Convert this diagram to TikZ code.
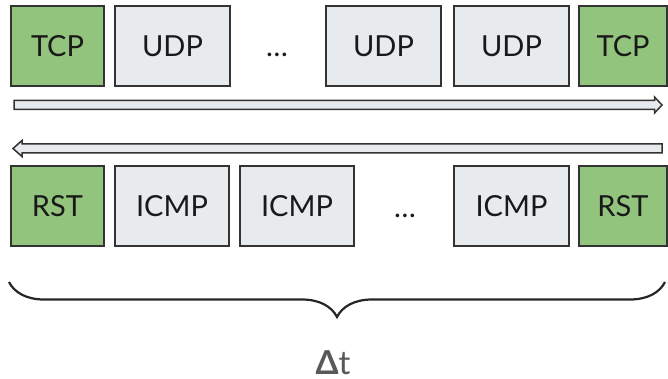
\documentclass[tikz,border=0pt]{standalone}
\usepackage{fontspec}
\setmainfont{Lato}
\usepackage{tikz}
\usetikzlibrary{decorations.pathreplacing}
\usepackage{xcolor}

\definecolor{pktgreen}{HTML}{93C47D}
\definecolor{pktgrey}{HTML}{E8EBED}
\definecolor{pktline}{HTML}{333333}
\definecolor{labelgrey}{HTML}{595959}

\tikzset{
  pkt/.style={draw=pktline, line width=1.5pt, minimum height=80pt,
    inner sep=0pt, text=black!90, font=\fontsize{29}{30}\selectfont},
  tcp/.style={pkt, fill=pktgreen, minimum width=93pt},
  udp/.style={pkt, fill=pktgrey, minimum width=115pt},
  dots/.style={anchor=base, inner sep=0pt, text=black!90,
    font=\fontsize{29}{30}\selectfont},
  flow/.style={draw=pktline, fill=pktgrey, line width=1.5pt, line join=miter}
}

\begin{document}
\begin{tikzpicture}[x=1pt,y=-1pt]
  \useasboundingbox (0,0) rectangle (668,379);
  % packets sent
  \node[tcp] (tcpa) at (57.5,46) {TCP};
  \node[udp] (udpa) at (172.5,46) {UDP};
  \node[dots] (dotsa) at (277,57) {…};
  \node[udp] (udpb) at (383.5,46) {UDP};
  \node[udp] (udpc) at (511.5,46) {UDP};
  \node[tcp, minimum width=88pt] (tcpb) at (623,46) {TCP};
  % arrows
  \path[flow] (14,100.5) -- (654.5,100.5) -- (654.5,97) -- (662,105) -- (654.5,113)
    -- (654.5,109.5) -- (14,109.5) -- cycle;
  \path[flow] (662,144) -- (22,144) -- (22,140.5) -- (13,148.5) -- (22,156.5)
    -- (22,153) -- (662,153) -- cycle;
  % packets received
  \node[tcp] (rsta) at (57.5,206) {RST};
  \node[udp, minimum width=114pt] (icmpa) at (172,206) {ICMP};
  \node[udp, minimum width=114pt] (icmpb) at (297,206) {ICMP};
  \node[dots] (dotsb) at (405,217) {…};
  \node[udp] (icmpc) at (511.5,206) {ICMP};
  \node[tcp, minimum width=88pt] (rstb) at (623,206) {RST};
  % time span
  \draw[line width=2.2pt, draw=black!85, decorate,
    decoration={brace, amplitude=35pt, mirror}] (9,282) -- (665,282);
  \node[anchor=base, inner sep=0pt, text=labelgrey, font=\fontsize{33}{34}\selectfont]
    (span) at (333,374) {\textbf{Δ}t};
\end{tikzpicture}
\end{document}
